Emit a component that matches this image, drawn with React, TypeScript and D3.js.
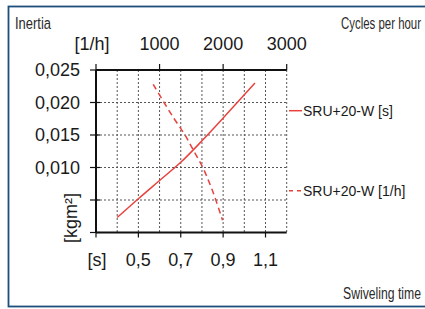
import * as d3 from "d3";
import React, { useRef, useEffect } from "react";

// swiveling time series (bottom axis, seconds)
const timeSec = [0.4, 0.5, 0.6, 0.7, 0.8, 0.9, 1.0, 1.05];
const inertiaTime = [0.0023, 0.0052, 0.008, 0.0108, 0.0141, 0.0176, 0.0212, 0.023];

// cycles per hour series (top axis)
const cycles = [900, 1070, 1230, 1400, 1530, 1680, 1790, 1885, 1990];
const inertiaCycles = [0.0228, 0.02, 0.0175, 0.015, 0.0127, 0.01, 0.0075, 0.005, 0.0019];

const yTicks = [0, 0.005, 0.01, 0.015, 0.02, 0.025];
const yTickLabels = ["", "", "0,010", "0,015", "0,020", "0,025"];
const bottomTicks = [0.5, 0.7, 0.9, 1.1];
const bottomTickLabels = ["0,5", "0,7", "0,9", "1,1"];
const topTicks = [1000, 2000, 3000];
const topTickLabels = ["1000", "2000", "3000"];
const gridSec = [0.4, 0.5, 0.6, 0.7, 0.8, 0.9, 1.0, 1.1, 1.2];
const legendLabels = ["SRU+20-W [s]", "SRU+20-W [1/h]"];

const RED = "#e8423d";
const FONT = "'Liberation Sans', Arial, sans-serif";

function App() {
  const svgRef = useRef<SVGSVGElement>(null);

  useEffect(() => {
    const w = 425;
    const h = 309;
    const svg = d3.select(svgRef.current).attr("width", w).attr("height", h);
    svg.selectAll("*").remove();

    const left = 96, right = 286.7, top = 70, bottom = 232.5;

    const xSec = d3.scaleLinear().domain([0.3, 1.2]).range([left, right]);
    const xCyc = d3.scaleLinear().domain([0, 3000]).range([left, right]);
    const y = d3.scaleLinear().domain([0, 0.025]).range([bottom, top]);

    // frame
    svg.append("rect")
      .attr("x", 8.5).attr("y", 6.5)
      .attr("width", 430).attr("height", 300)
      .attr("fill", "none")
      .attr("stroke", "#1e4f7c")
      .attr("stroke-width", 1.8);

    // grid
    const grid = svg.append("g")
      .attr("stroke", "#555")
      .attr("stroke-width", 1)
      .attr("stroke-dasharray", "2,2");
    grid.selectAll(".gv").data(gridSec).join("line")
      .attr("x1", d => xSec(d)).attr("x2", d => xSec(d))
      .attr("y1", top).attr("y2", bottom);
    grid.selectAll(".gh").data(yTicks.slice(1, -1)).join("line")
      .attr("x1", left).attr("x2", right)
      .attr("y1", d => y(d)).attr("y2", d => y(d));

    // axes lines
    const ax = svg.append("g").attr("stroke", "#111").attr("stroke-width", 2);
    ax.append("line").attr("x1", left).attr("x2", left).attr("y1", top).attr("y2", bottom);
    ax.append("line").attr("x1", left).attr("x2", right).attr("y1", top).attr("y2", top);
    ax.append("line").attr("x1", left).attr("x2", right).attr("y1", bottom).attr("y2", bottom);

    const tk = svg.append("g").attr("stroke", "#111").attr("stroke-width", 1.2);
    tk.selectAll(".ty").data(yTicks).join("line")
      .attr("x1", left - 6).attr("x2", left + 4)
      .attr("y1", d => y(d)).attr("y2", d => y(d));
    tk.selectAll(".tb").data([0.3, ...bottomTicks]).join("line")
      .attr("x1", d => xSec(d)).attr("x2", d => xSec(d))
      .attr("y1", bottom).attr("y2", bottom + 5);
    tk.selectAll(".tt").data([0, ...topTicks]).join("line")
      .attr("x1", d => xCyc(d)).attr("x2", d => xCyc(d))
      .attr("y1", top - 6).attr("y2", top);

    // tick labels
    const lab = svg.append("g")
      .attr("font-family", FONT)
      .attr("font-size", 18)
      .attr("fill", "#1a1a1a");
    lab.selectAll(".ly").data(yTicks).join("text")
      .attr("x", 80).attr("y", d => y(d) + 6.3)
      .attr("text-anchor", "end")
      .text((d, i) => yTickLabels[i]);
    lab.selectAll(".lb").data(bottomTicks).join("text")
      .attr("x", d => xSec(d)).attr("y", 265.5)
      .attr("text-anchor", "middle")
      .text((d, i) => bottomTickLabels[i]);
    lab.selectAll(".lt").data(topTicks).join("text")
      .attr("x", d => xCyc(d)).attr("y", 49.5)
      .attr("text-anchor", "middle")
      .text((d, i) => topTickLabels[i]);
    lab.append("text").attr("x", 92).attr("y", 49.5).attr("text-anchor", "middle").text("[1/h]");
    lab.append("text").attr("x", 97).attr("y", 265.5).attr("text-anchor", "middle").text("[s]");
    lab.append("text")
      .attr("transform", "translate(76.5,218) rotate(-90)")
      .attr("text-anchor", "middle")
      .text("[kgm²]");

    // titles, squeezed horizontally to look condensed
    const titles = [
      { text: "Inertia", x: 15, y: 29, width: 36, anchor: "start" },
      { text: "Cycles per hour", x: 421, y: 29, width: 80, anchor: "end" },
      { text: "Swiveling time", x: 421, y: 299, width: 78, anchor: "end" },
    ];
    titles.forEach(t => {
      const node = svg.append("text")
        .attr("font-family", FONT)
        .attr("font-size", 17)
        .attr("fill", "#2a2a2a")
        .attr("text-anchor", t.anchor)
        .text(t.text);
      const natural = (node.node() as SVGTextElement).getComputedTextLength() || t.width;
      node.attr("transform", `translate(${t.x},${t.y}) scale(${t.width / natural},1)`);
    });

    // series
    const lineSec = d3.line<number>()
      .x((d, i) => xSec(timeSec[i]))
      .y(d => y(d))
      .curve(d3.curveCatmullRom);
    const lineCyc = d3.line<number>()
      .x((d, i) => xCyc(cycles[i]))
      .y(d => y(d))
      .curve(d3.curveCatmullRom);

    svg.append("path")
      .attr("d", lineSec(inertiaTime))
      .attr("fill", "none")
      .attr("stroke", RED)
      .attr("stroke-width", 1.5);
    svg.append("path")
      .attr("d", lineCyc(inertiaCycles))
      .attr("fill", "none")
      .attr("stroke", RED)
      .attr("stroke-width", 1.5)
      .attr("stroke-dasharray", "6,4");

    // legend
    const leg = svg.append("g");
    const legY = [110.7, 190.7];
    leg.selectAll(".ll").data(legendLabels).join("line")
      .attr("x1", 289).attr("x2", 302)
      .attr("y1", (d, i) => legY[i]).attr("y2", (d, i) => legY[i])
      .attr("stroke", RED)
      .attr("stroke-width", 1.5)
      .attr("stroke-dasharray", (d, i) => (i === 1 ? "4,4" : null));
    leg.selectAll(".lt").data(legendLabels).join("text")
      .attr("x", 303).attr("y", (d, i) => legY[i] + 5)
      .attr("font-family", FONT)
      .attr("font-size", 14)
      .attr("fill", "#1a1a1a")
      .text(d => d);
  }, []);

  return (
    <div style={{ position: "absolute", left: 0, top: 0, width: 425, height: 309, overflow: "hidden", background: "#fff" }}>
      <svg ref={svgRef} style={{ display: "block" }}></svg>
    </div>
  );
}

export default App;
